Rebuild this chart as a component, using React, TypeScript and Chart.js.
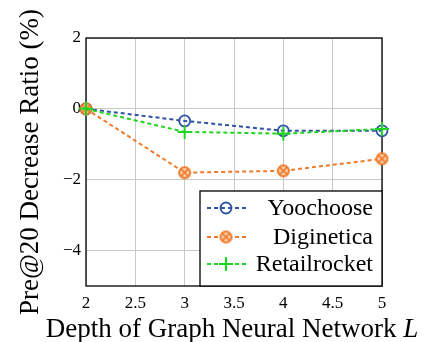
import { useEffect, useRef } from 'react';
import { Chart, registerables } from 'chart.js';

Chart.register(...registerables);

// Network depth L on the x axis
const depths = [2, 3, 4, 5];
// Pre@20 decrease ratio (%) per dataset
const yoochoose = [0, -0.34, -0.62, -0.62];
const diginetica = [0, -1.8, -1.75, -1.41];
const retailrocket = [0, -0.65, -0.7, -0.57];
const yTicks = [-4, -2, 0, 2];
const seriesNames = ['Yoochoose', 'Diginetica', 'Retailrocket'];
const xTitle = 'Depth of Graph Neural Network ';
const xTitleSymbol = 'L';
const yTitle = 'Pre@20 Decrease Ratio (%)';

const BLUE = '#2f52a6';
const ORANGE = '#f07a28';
const ORANGE_FILL = '#fbcfae';
const GREEN = '#1fd61f';
const FONT = '"Liberation Serif", "DejaVu Serif", serif';

function makeOtimes(r: number): HTMLCanvasElement {
  const c = document.createElement('canvas');
  const s = Math.ceil(r * 2 + 4);
  c.width = s;
  c.height = s;
  const g = c.getContext('2d')!;
  const m = s / 2;
  g.beginPath();
  g.arc(m, m, r, 0, Math.PI * 2);
  g.fillStyle = ORANGE_FILL;
  g.fill();
  g.lineWidth = 2;
  g.strokeStyle = ORANGE;
  g.stroke();
  const d = r * Math.SQRT1_2;
  g.lineWidth = 1.6;
  g.beginPath();
  g.moveTo(m - d, m - d);
  g.lineTo(m + d, m + d);
  g.moveTo(m + d, m - d);
  g.lineTo(m - d, m + d);
  g.stroke();
  return c;
}

const toPoints = (ys: number[]) => depths.map((x, i) => ({ x, y: ys[i] }));
const fmt = (v: number) => (v < 0 ? '\u2212' + String(Math.abs(v)) : String(v));

export default function App() {
  const ref = useRef<HTMLCanvasElement | null>(null);

  useEffect(() => {
    if (!ref.current) return;
    const otimes = makeOtimes(5.5);

    const frame = {
      id: 'frame',
      beforeDatasetsDraw(chart: any) {
        const { ctx, chartArea: a } = chart;
        ctx.save();
        ctx.strokeStyle = '#000';
        ctx.lineWidth = 1.3;
        ctx.strokeRect(a.left, a.top, a.right - a.left, a.bottom - a.top);
        ctx.restore();
      },
    };

    const xTitlePlugin = {
      id: 'xTitle',
      afterDraw(chart: any) {
        const { ctx, chartArea: a } = chart;
        ctx.save();
        ctx.fillStyle = '#000';
        ctx.textBaseline = 'alphabetic';
        ctx.textAlign = 'left';
        ctx.font = `27px ${FONT}`;
        const w1 = ctx.measureText(xTitle).width;
        ctx.font = `italic 27px ${FONT}`;
        const w2 = ctx.measureText(xTitleSymbol).width;
        const cx = (a.left + a.right) / 2 - 2;
        const x0 = cx - (w1 + w2) / 2;
        ctx.font = `27px ${FONT}`;
        ctx.fillText(xTitle, x0, 337);
        ctx.font = `italic 27px ${FONT}`;
        ctx.fillText(xTitleSymbol, x0 + w1, 337);
        ctx.restore();
      },
    };

    const legendPlugin = {
      id: 'boxLegend',
      afterDatasetsDraw(chart: any) {
        const { ctx, chartArea: a } = chart;
        const left = 200;
        const top = 191;
        ctx.save();
        ctx.fillStyle = '#fff';
        ctx.fillRect(left, top, a.right - left, a.bottom - top);
        ctx.strokeStyle = '#000';
        ctx.lineWidth = 1.3;
        ctx.strokeRect(left, top, a.right - left, a.bottom - top);
        const rows = [208, 237, 264];
        const colors = [BLUE, ORANGE, GREEN];
        rows.forEach((y, i) => {
          ctx.strokeStyle = colors[i];
          ctx.lineWidth = 2;
          ctx.setLineDash([4, 3]);
          ctx.beginPath();
          ctx.moveTo(207, y);
          ctx.lineTo(246, y);
          ctx.stroke();
          ctx.setLineDash([]);
          const mx = 226;
          if (i === 0) {
            ctx.lineWidth = 1.8;
            ctx.beginPath();
            ctx.arc(mx, y, 5.5, 0, Math.PI * 2);
            ctx.stroke();
          } else if (i === 1) {
            ctx.drawImage(otimes, mx - otimes.width / 2, y - otimes.height / 2);
          } else {
            ctx.lineWidth = 2;
            ctx.beginPath();
            ctx.moveTo(mx - 7, y);
            ctx.lineTo(mx + 7, y);
            ctx.moveTo(mx, y - 7);
            ctx.lineTo(mx, y + 7);
            ctx.stroke();
          }
          ctx.fillStyle = '#000';
          ctx.font = `24px ${FONT}`;
          ctx.textAlign = 'right';
          ctx.textBaseline = 'middle';
          ctx.fillText(seriesNames[i], 373, y + 1);
        });
        ctx.restore();
      },
    };

    const chart = new Chart(ref.current, {
      type: 'line',
      data: {
        datasets: [
          {
            label: seriesNames[0],
            data: toPoints(yoochoose),
            borderColor: BLUE,
            borderWidth: 2,
            borderDash: [4, 3],
            pointStyle: 'circle',
            pointRadius: 5.5,
            pointBorderWidth: 1.8,
            pointBorderColor: BLUE,
            pointBackgroundColor: 'rgba(0,0,0,0)',
            order: 2,
          },
          {
            label: seriesNames[1],
            data: toPoints(diginetica),
            borderColor: ORANGE,
            borderWidth: 2,
            borderDash: [4, 3],
            pointStyle: otimes,
            pointRadius: 6,
            order: 1,
          },
          {
            label: seriesNames[2],
            data: toPoints(retailrocket),
            borderColor: GREEN,
            borderWidth: 2,
            borderDash: [4, 3],
            pointStyle: 'cross',
            pointRadius: 7,
            pointBorderWidth: 2,
            pointBorderColor: GREEN,
            order: 0,
          },
        ],
      },
      options: {
        responsive: false,
        animation: false,
        clip: false,
        layout: { padding: { top: 38, right: 43, left: 0, bottom: 0 } },
        plugins: { legend: { display: false }, tooltip: { enabled: false } },
        elements: { line: { tension: 0 } },
        scales: {
          x: {
            type: 'linear',
            min: 2,
            max: 5,
            ticks: {
              stepSize: 0.5,
              padding: 7,
              color: '#000',
              font: { family: FONT, size: 17 },
              maxRotation: 0,
              callback: (v: any) => fmt(Number(v)),
            },
            grid: { color: '#c8c8c8', lineWidth: 1, drawTicks: false },
            border: { display: false },
            afterFit(scale: any) {
              scale.height = 56;
            },
          },
          y: {
            type: 'linear',
            min: -5,
            max: 2,
            afterBuildTicks(scale: any) {
              scale.ticks = yTicks.map((v) => ({ value: v }));
            },
            ticks: {
              padding: 5,
              color: '#000',
              font: { family: FONT, size: 17 },
              callback: (v: any) => fmt(Number(v)),
            },
            grid: { color: '#c8c8c8', lineWidth: 1, drawTicks: false },
            border: { display: false },
            title: {
              display: true,
              text: yTitle,
              color: '#000',
              font: { family: FONT, size: 27, lineHeight: 1 },
              padding: { top: 17.5, bottom: 0 },
            },
            afterFit(scale: any) {
              scale.width = 86;
            },
          },
        },
      },
      plugins: [frame, legendPlugin, xTitlePlugin],
    });

    return () => chart.destroy();
  }, []);

  return (
    <div style={{ position: 'absolute', left: 0, top: 0, width: 425, height: 342, background: '#fff' }}>
      <canvas ref={ref} width={425} height={342} />
    </div>
  );
}
